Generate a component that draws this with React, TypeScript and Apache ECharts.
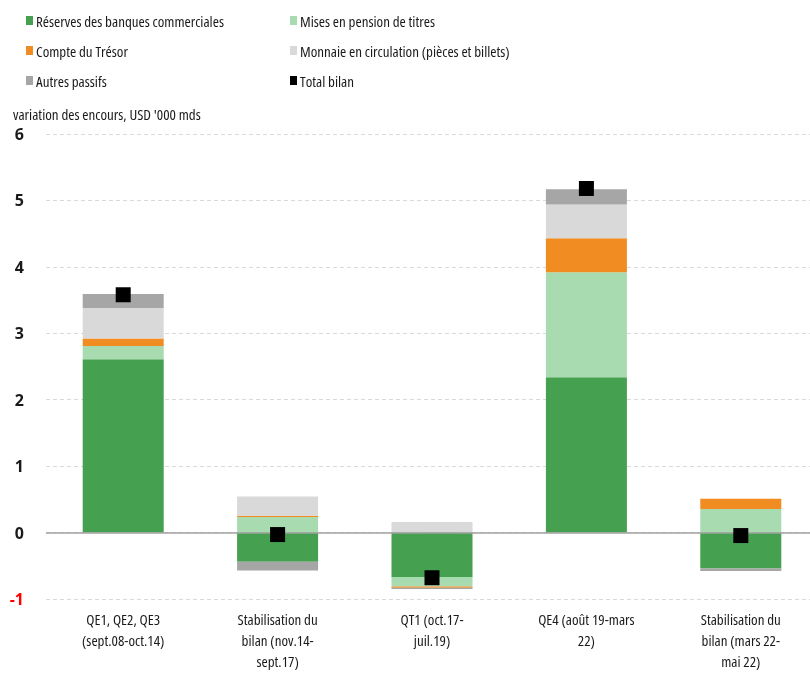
import React, { useEffect, useRef } from "react";
import * as echarts from "echarts";

const categories = [
  "QE1, QE2, QE3\n(sept.08-oct.14)",
  "Stabilisation du\nbilan (nov.14-\nsept.17)",
  "QT1 (oct.17-\njuil.19)",
  "QE4 (août 19-mars\n22)",
  "Stabilisation du\nbilan (mars 22-\nmai 22)",
];
const reserves = [2.61, -0.44, -0.67, 2.34, -0.54];
const mises = [0.2, 0.235, -0.14, 1.58, 0.355];
const tresor = [0.11, 0.018, -0.02, 0.51, 0.155];
const monnaie = [0.46, 0.29, 0.16, 0.51, 0];
const autres = [0.21, -0.13, -0.02, 0.23, -0.04];
const total = [3.58, -0.03, -0.68, 5.18, -0.045];
const yTicks = { min: -1, max: 6, interval: 1 };

const FONT = "'Open Sans', sans-serif";
const TXT = "#1a1a1a";
const CSS = `.cond-chart svg text:not([style*="bold"]) { font-stretch: condensed !important; }`;

export default function App() {
  const ref = useRef<HTMLDivElement>(null);
  useEffect(() => {
    if (!ref.current) return;
    const chart = echarts.init(ref.current, null, { renderer: "svg" });
    const barSeries = (name: string, data: number[], color: string, extra: any = {}) => ({
      name,
      type: "bar",
      stack: "s",
      data,
      barWidth: 81,
      itemStyle: { color },
      emphasis: { disabled: true },
      ...extra,
    });
    const legendBase = {
      top: 10,
      orient: "vertical",
      icon: "rect",
      padding: 0,
      itemWidth: 7,
      itemHeight: 9,
      itemGap: 9,
      selectedMode: false,
      textStyle: {
        fontFamily: FONT,
        fontWeight: 500,
        fontSize: 15,
        lineHeight: 21,
        color: TXT,
        padding: [0, 0, 0, -2],
      },
    };
    chart.setOption({
      animation: false,
      textStyle: { fontFamily: FONT },
      legend: [
        {
          ...legendBase,
          left: 26,
          data: ["Réserves des banques commerciales", "Compte du Trésor", "Autres passifs"],
        },
        {
          ...legendBase,
          left: 290,
          data: ["Mises en pension de titres", "Monnaie en circulation (pièces et billets)", "Total bilan"],
        },
      ],
      graphic: [
        {
          type: "text",
          left: 13,
          top: 106,
          style: {
            text: "variation des encours, USD '000 mds",
            fontFamily: FONT,
            fontWeight: 500,
            fontSize: 15,
            fill: TXT,
          },
        },
      ],
      grid: { left: 46, top: 134, width: 772, height: 465, outerBoundsMode: "none", containLabel: false },
      xAxis: {
        type: "category",
        data: categories,
        axisLine: { show: false, onZero: false },
        axisTick: { show: false },
        axisLabel: {
          interval: 0,
          margin: 9,
          fontSize: 15,
          fontWeight: 500,
          lineHeight: 21,
          color: TXT,
          fontFamily: FONT,
        },
      },
      yAxis: {
        type: "value",
        ...yTicks,
        axisLine: { show: false },
        axisTick: { show: false },
        splitLine: { lineStyle: { color: "#d9d9d9", type: [4, 3], width: 1 } },
        axisLabel: {
          margin: 22,
          fontSize: 16,
          fontWeight: "bold",
          fontFamily: FONT,
          color: (v: any) => (Number(v) < 0 ? "#ff0000" : TXT),
        },
      },
      series: [
        barSeries("Réserves des banques commerciales", reserves, "#45a04f", {
          markLine: {
            silent: true,
            symbol: "none",
            label: { show: false },
            lineStyle: { color: "#a0a0a0", type: "solid", width: 1.5 },
            data: [{ yAxis: 0 }],
            emphasis: { disabled: true },
          },
        }),
        barSeries("Mises en pension de titres", mises, "#a9dbb0"),
        barSeries("Compte du Trésor", tresor, "#f08c22"),
        barSeries("Monnaie en circulation (pièces et billets)", monnaie, "#d9d9d9"),
        barSeries("Autres passifs", autres, "#a6a6a6"),
        {
          name: "Total bilan",
          type: "scatter",
          data: total,
          symbol: "rect",
          symbolSize: 15,
          itemStyle: { color: "#000000", opacity: 1 },
          z: 10,
          emphasis: { disabled: true },
        },
      ],
    });
    return () => chart.dispose();
  }, []);
  return (
    <>
      <style>{CSS}</style>
      <div
        ref={ref}
        className="cond-chart"
        style={{ position: "fixed", left: 0, top: 0, width: 810, height: 673 }}
      />
    </>
  );
}
